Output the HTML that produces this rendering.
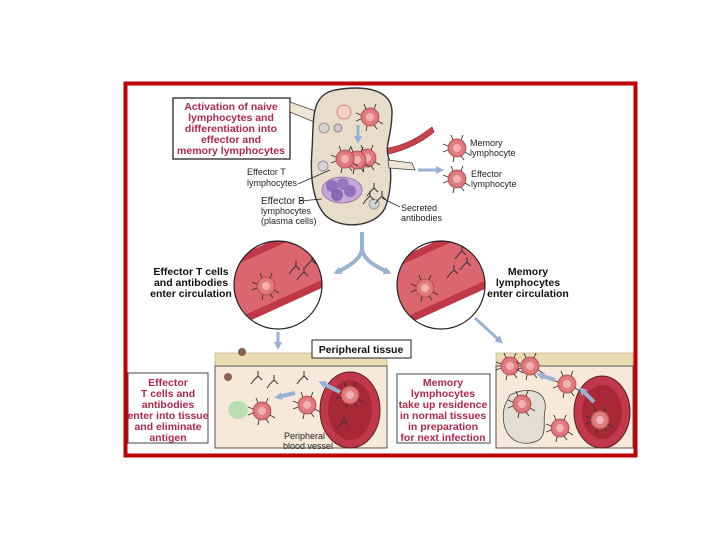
<!DOCTYPE html>
<html><head><meta charset="utf-8"><style>
html,body{margin:0;padding:0;background:#fff;}
svg{display:block;}
text{font-family:"Liberation Sans",sans-serif;}
.lab{font-size:9px;fill:#222;}
.red{font-size:10.5px;font-weight:bold;fill:#b0284a;text-anchor:middle;}
.blk{font-size:10.5px;font-weight:bold;fill:#111;text-anchor:middle;}
</style></head><body>
<svg width="720" height="540" viewBox="0 0 720 540" xmlns="http://www.w3.org/2000/svg">
<defs>
<radialGradient id="cell" cx="50%" cy="50%" r="50%"><stop offset="0" stop-color="#f7c8c0"/><stop offset="0.45" stop-color="#e88a88"/><stop offset="1" stop-color="#d86a70"/></radialGradient>
<marker id="ah" markerWidth="8" markerHeight="8" refX="4" refY="4" orient="auto" markerUnits="userSpaceOnUse"><path d="M0,0 L8,4 L0,8 Z" fill="#9ab3d3"/></marker>
<g id="c"><circle r="9" fill="url(#cell)" stroke="#b04a55" stroke-width="0.8"/><circle r="4.5" fill="#f2b0b0" stroke="#c86a70" stroke-width="0.6"/>
<path d="M-9,-2 l-5,-2 M-9,2 l-5,2 M-4,-8 l-2,-5 M4,-8 l2,-5 M8,4 l5,3 M-3,9 l-1,5 M4,8 l3,4" stroke="#333" stroke-width="0.9"/></g>
<path id="ab" d="M0,0 l4,-4 l4,4 M4,-4 l0,-5 M0,0 l-3,4" stroke="#333" stroke-width="1" fill="none"/>
</defs>
<rect x="125.5" y="83.5" width="510" height="372" fill="#fff" stroke="#c00000" stroke-width="4"/>

<rect x="173" y="98" width="117" height="61" fill="#fff" stroke="#444" stroke-width="1.5"/>
<text class="red" font-size="10"><tspan x="231" y="110">Activation of naive</tspan><tspan x="231" y="121">lymphocytes and</tspan><tspan x="231" y="132">differentiation into</tspan><tspan x="231" y="143">effector and</tspan><tspan x="231" y="154">memory lymphocytes</tspan></text>

<path d="M290,102 L318,112 L314,122 L290,112 Z" fill="#efe6d6" stroke="#444" stroke-width="0.8"/>
<path d="M335,90 C370,84 392,92 392,112 C392,135 385,145 388,155 C392,170 392,190 385,208 C375,228 340,230 325,215 C312,200 310,175 312,150 C314,120 310,95 335,90 Z" fill="#e8dccb" stroke="#333" stroke-width="1.4"/>
<path d="M388,148 C405,145 418,138 432,127 L434,132 C420,144 405,150 389,154 Z" fill="#c8424a" stroke="#8a2030" stroke-width="0.6"/>
<path d="M388,160 L412,163 L415,170 L389,168 Z" fill="#efe6d6" stroke="#444" stroke-width="0.8"/>
<line x1="418" y1="170" x2="440" y2="170" stroke="#9ab3d3" stroke-width="3" marker-end="url(#ah)"/>
<circle cx="338" cy="128" r="4" fill="#ccc" stroke="#888"/><circle cx="324" cy="128" r="5" fill="#d4d4d4" stroke="#999"/>
<circle cx="323" cy="166" r="5" fill="#d4d4d4" stroke="#999"/><circle cx="374" cy="204" r="5" fill="#d4d4d4" stroke="#999"/>
<circle cx="344" cy="112" r="7" fill="#f6d0c0" stroke="#c07060" stroke-width="0.7"/>
<use href="#c" x="370" y="117"/>
<line x1="358" y1="125" x2="358" y2="140" stroke="#9ab3d3" stroke-width="3" marker-end="url(#ah)"/>
<use href="#c" x="367" y="158"/><use href="#c" x="357" y="160"/><use href="#c" x="345" y="159"/>
<ellipse cx="342" cy="190" rx="20" ry="13" fill="#c8a8d8" stroke="#8a6aa0" stroke-width="0.8"/>
<circle cx="332" cy="186" r="6" fill="#9070b8"/><circle cx="343" cy="184" r="6" fill="#9a78c0"/><circle cx="337" cy="195" r="6" fill="#8a68b0"/><circle cx="350" cy="191" r="6" fill="#9070b8"/>
<use href="#ab" x="370" y="192"/><use href="#ab" x="378" y="200"/><use href="#ab" x="366" y="200"/>

<text class="lab"><tspan x="247" y="175">Effector T</tspan><tspan x="247" y="186">lymphocytes</tspan></text>
<line x1="298" y1="184" x2="330" y2="170" stroke="#222" stroke-width="0.7"/>
<text class="lab"><tspan x="261" y="204" font-size="10">Effector B</tspan><tspan x="261" y="214">lymphocytes</tspan><tspan x="261" y="224">(plasma cells)</tspan></text>
<line x1="300" y1="201" x2="322" y2="199" stroke="#222" stroke-width="0.7"/>
<text class="lab"><tspan x="401" y="211">Secreted</tspan><tspan x="401" y="221">antibodies</tspan></text>
<line x1="400" y1="207" x2="382" y2="198" stroke="#222" stroke-width="0.7"/>

<use href="#c" x="457" y="148"/><use href="#c" x="457" y="179"/>
<text class="lab"><tspan x="470" y="146">Memory</tspan><tspan x="470" y="156">lymphocyte</tspan><tspan x="471" y="177">Effector</tspan><tspan x="471" y="187">lymphocyte</tspan></text>

<path d="M362,232 L362,248 C362,258 350,266 337,272" stroke="#9ab3d3" stroke-width="4" fill="none" marker-end="url(#ah)"/>
<path d="M362,248 C362,258 374,266 388,272" stroke="#9ab3d3" stroke-width="4" fill="none" marker-end="url(#ah)"/>

<clipPath id="cl"><circle cx="278" cy="285" r="44"/></clipPath>
<clipPath id="cr"><circle cx="441" cy="285" r="44"/></clipPath>
<g clip-path="url(#cl)"><rect x="230" y="238" width="100" height="100" fill="#fff"/>
<path d="M225,262 L335,212 L335,282 L225,332 Z" fill="#c03848"/><path d="M225,270 L335,220 L335,274 L225,324 Z" fill="#dc6670"/>
<use href="#c" x="266" y="286"/><use href="#ab" x="292" y="270"/><use href="#ab" x="308" y="264"/><use href="#ab" x="300" y="276"/></g>
<circle cx="278" cy="285" r="44" fill="none" stroke="#222" stroke-width="1.2"/>
<g clip-path="url(#cr)"><rect x="395" y="238" width="100" height="100" fill="#fff"/>
<path d="M390,262 L500,212 L500,282 L390,332 Z" fill="#c03848"/><path d="M390,270 L500,220 L500,274 L390,324 Z" fill="#dc6670"/>
<use href="#c" x="425" y="288"/><use href="#ab" x="450" y="274"/><use href="#ab" x="463" y="266"/><use href="#ab" x="458" y="255"/></g>
<circle cx="441" cy="285" r="44" fill="none" stroke="#222" stroke-width="1.2"/>
<text class="blk" font-size="10"><tspan x="191" y="275">Effector  T cells</tspan><tspan x="191" y="286">and antibodies</tspan><tspan x="191" y="297">enter circulation</tspan></text>
<text class="blk" font-size="10"><tspan x="528" y="275">Memory</tspan><tspan x="528" y="286">lymphocytes</tspan><tspan x="528" y="297">enter circulation</tspan></text>

<line x1="278" y1="332" x2="278" y2="346" stroke="#9ab3d3" stroke-width="3" marker-end="url(#ah)"/>
<line x1="475" y1="318" x2="500" y2="341" stroke="#9ab3d3" stroke-width="3" marker-end="url(#ah)"/>

<rect x="215" y="353" width="172" height="13" fill="#e9dcb2" stroke="#b8a880" stroke-width="0.6"/>
<rect x="215" y="366" width="172" height="82" fill="#f6e9da" stroke="#555" stroke-width="1"/>
<ellipse cx="350" cy="410" rx="30" ry="38" fill="#c0384a" stroke="#5a2020" stroke-width="1"/>
<ellipse cx="350" cy="410" rx="22" ry="30" fill="#a82838"/>
<use href="#c" x="350" y="395"/>
<use href="#c" x="307" y="405"/><use href="#c" x="262" y="411"/>
<ellipse cx="238" cy="410" rx="10" ry="9" fill="#b8e0b0"/>
<circle cx="242" cy="352" r="4" fill="#8a6050"/><circle cx="228" cy="377" r="4" fill="#8a6050"/>
<use href="#ab" x="254" y="380"/><use href="#ab" x="270" y="384"/><use href="#ab" x="300" y="380"/><use href="#ab" x="340" y="425"/>
<line x1="340" y1="392" x2="322" y2="383" stroke="#9ab3d3" stroke-width="4" marker-end="url(#ah)"/>
<line x1="295" y1="393" x2="278" y2="397" stroke="#9ab3d3" stroke-width="4" marker-end="url(#ah)"/>
<text class="lab"><tspan x="284" y="439">Peripheral</tspan><tspan x="283" y="449">blood vessel</tspan></text>

<rect x="312" y="340" width="99" height="18" fill="#fff" stroke="#222" stroke-width="1"/>
<text x="361" y="353" class="blk" font-size="11">Peripheral tissue</text>

<rect x="128" y="373" width="80" height="70" fill="#fff" stroke="#444" stroke-width="1"/>
<text class="red" font-size="10"><tspan x="168" y="386">Effector</tspan><tspan x="168" y="397">T cells and</tspan><tspan x="168" y="408">antibodies</tspan><tspan x="168" y="419">enter into tissue</tspan><tspan x="168" y="430">and eliminate</tspan><tspan x="168" y="441">antigen</tspan></text>

<rect x="397" y="374" width="93" height="69" fill="#fff" stroke="#444" stroke-width="1"/>
<text class="red" font-size="10"><tspan x="443" y="386">Memory</tspan><tspan x="443" y="397">lymphocytes</tspan><tspan x="443" y="408">take up residence</tspan><tspan x="443" y="419">in normal tissues</tspan><tspan x="443" y="430">in preparation</tspan><tspan x="443" y="441">for next infection</tspan></text>

<rect x="496" y="353" width="137" height="13" fill="#e9dcb2" stroke="#b8a880" stroke-width="0.6"/>
<rect x="496" y="366" width="137" height="82" fill="#f6e9da" stroke="#555" stroke-width="1"/>
<path d="M510,395 C530,385 548,392 545,410 C542,425 550,440 530,443 C505,446 500,420 505,405 Z" fill="#e2ded6" stroke="#444" stroke-width="0.8"/>
<ellipse cx="602" cy="412" rx="28" ry="36" fill="#c0384a" stroke="#5a2020" stroke-width="1"/>
<ellipse cx="602" cy="412" rx="20" ry="27" fill="#a82838"/>
<use href="#c" x="600" y="420"/>
<use href="#c" x="510" y="366"/><use href="#c" x="530" y="366"/><use href="#c" x="567" y="384"/>
<use href="#c" x="522" y="404"/><use href="#c" x="560" y="428"/>
<line x1="594" y1="402" x2="582" y2="390" stroke="#9ab3d3" stroke-width="4" marker-end="url(#ah)"/>
<line x1="555" y1="380" x2="540" y2="375" stroke="#9ab3d3" stroke-width="4" marker-end="url(#ah)"/>
</svg>
</body></html>
